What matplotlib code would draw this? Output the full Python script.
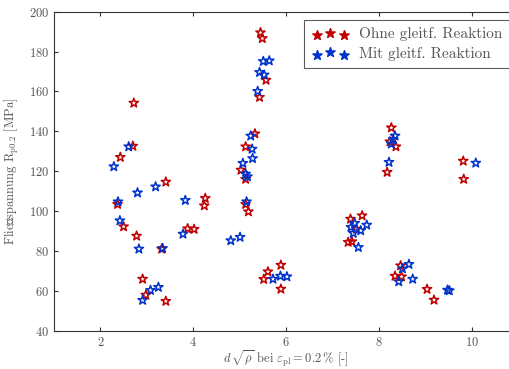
import matplotlib
matplotlib.use('Agg')
import matplotlib.pyplot as plt

plt.rcParams['font.family'] = ['cmr10', 'DejaVu Serif']
plt.rcParams['mathtext.fontset'] = 'cm'
plt.rcParams['axes.formatter.use_mathtext'] = True

# Ohne gleitf. Reaktion (rot)
x_ohne = [2.72, 2.70, 2.43, 3.41, 4.26, 4.24, 2.37, 2.50, 2.78, 3.32, 3.88, 4.02, 2.91, 2.98, 3.41,
          5.45, 5.49, 5.57, 5.43, 5.33, 5.13, 5.03, 5.13, 5.13, 5.19,
          5.89, 5.61, 5.52, 5.89,
          8.27, 8.24, 8.37, 8.18, 9.82, 9.83,
          7.64, 7.39, 7.52, 7.34, 7.42,
          8.47, 8.35, 8.49, 9.04, 9.19]
y_ohne = [154.2, 132.6, 127.0, 114.6, 106.4, 102.7, 103.4, 92.2, 87.5, 81.0, 91.2, 90.9, 65.9, 57.9, 54.8,
          189.5, 186.6, 165.7, 157.1, 138.8, 132.3, 120.6, 116.0, 103.4, 99.7,
          72.9, 69.6, 65.8, 60.9,
          141.8, 134.8, 132.3, 119.5, 125.1, 116.0,
          97.7, 96.0, 91.0, 84.4, 84.7,
          72.6, 67.4, 67.1, 60.8, 55.4]

# Mit gleitf. Reaktion (blau)
x_mit = [2.61, 2.29, 3.19, 2.80, 3.83, 2.38, 2.42, 2.83, 3.34, 3.78, 4.81, 5.01, 3.08, 3.25, 2.91,
         5.51, 5.64, 5.43, 5.53, 5.39, 5.24, 5.27, 5.28, 5.07, 5.13, 5.17, 5.15,
         5.72, 5.88, 6.02,
         8.35, 8.31, 8.27, 8.22, 10.09,
         7.48, 7.74, 7.40, 7.61, 7.45, 7.56,
         8.65, 8.51, 8.73, 8.43, 9.48, 9.52]
y_mit = [132.3, 122.3, 112.2, 109.2, 105.4, 104.7, 95.2, 81.0, 81.3, 88.5, 85.2, 86.9, 60.3, 61.8, 55.3,
         175.1, 175.4, 169.6, 168.3, 160.1, 137.7, 131.1, 126.4, 124.0, 118.6, 117.3, 104.7,
         65.9, 67.4, 67.1,
         137.7, 136.0, 133.7, 124.5, 124.1,
         93.9, 93.0, 91.9, 90.2, 88.9, 81.8,
         73.3, 71.1, 65.9, 64.6, 60.4, 60.1]

rot = '#c00000'
blau = '#0033cc'
grau = '#555555'

fig = plt.figure(figsize=(5.1, 3.69), dpi=100)
ax = fig.add_axes([54/510, 1-330.7/369, (518-54)/510, (330.7-11.7)/369])

ax.scatter(x_ohne, y_ohne, s=48, marker='*', facecolors='none', edgecolors=rot,
           linewidths=1.1, label='Ohne gleitf. Reaktion')
ax.scatter(x_mit, y_mit, s=48, marker='*', facecolors='none', edgecolors=blau,
           linewidths=1.1, label='Mit gleitf. Reaktion')

ax.set_xlim(1, 11)
ax.set_ylim(40, 200)
ax.set_xticks([2, 4, 6, 8, 10])
ax.set_yticks(range(40, 201, 20))
ax.tick_params(direction='in', length=3, top=True, right=False, labelsize=9,
               labelcolor=grau, color='#333333')
for s in ax.spines.values():
    s.set_color('#333333')

ax.set_xlabel(r'$d\,\sqrt{\rho}$ bei $\varepsilon_{\mathrm{pl}} = 0.2\,\%$ [-]',
              fontsize=9, color=grau, labelpad=0)
ax.set_ylabel(r'Fließspannung R$_{\mathrm{p0.2}}$ [MPa]', fontsize=9, color=grau, labelpad=6)

leg = ax.legend(loc='upper right', bbox_to_anchor=(0.9836, 0.9745), scatterpoints=3,
                scatteryoffsets=[0.3, 0.55, 0.3], fontsize=11, frameon=True, fancybox=False,
                borderpad=0.5, handlelength=2.4, handletextpad=0.7, labelspacing=0.35,
                borderaxespad=0)
leg.get_frame().set_edgecolor('#333333')
leg.get_frame().set_linewidth(0.8)
for h, c in zip(leg.legend_handles, [rot, blau]):
    h.set_facecolor(c)
    h.set_sizes([48])
for t in leg.get_texts():
    t.set_color(grau)

fig.savefig('out.png', dpi=100)
